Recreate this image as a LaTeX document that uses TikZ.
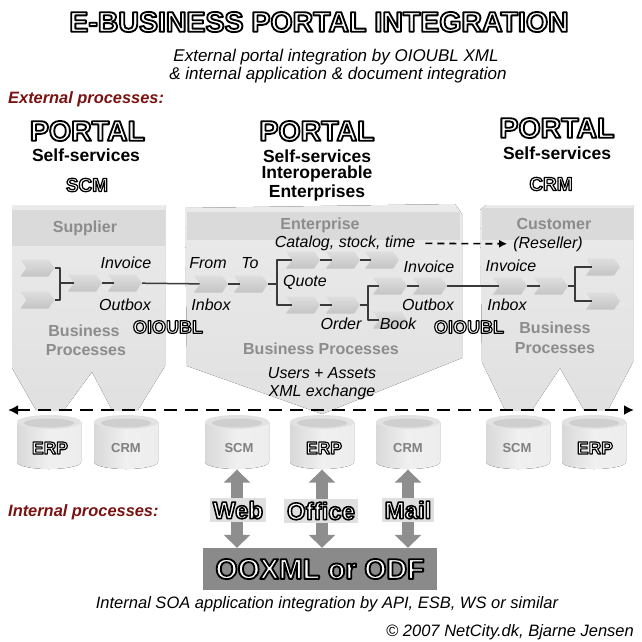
\documentclass[tikz,border=0pt]{standalone}
\usepackage{fontspec}
\setmainfont{Liberation Sans}
\newfontfamily\olfont[FakeBold=6.5]{Liberation Sans Bold}
\usetikzlibrary{shapes.symbols,arrows.meta}
\definecolor{dred}{HTML}{7A1212}
\definecolor{siloc}{HTML}{C9C9C9}
\definecolor{bandc}{HTML}{DADADA}
\definecolor{glab}{HTML}{8C8C8C}
\definecolor{linec}{HTML}{3A3A3A}
\definecolor{cyle}{HTML}{E2E2E2}
\definecolor{cylt}{HTML}{CFCFCF}
\definecolor{arrg}{HTML}{8E8E8E}
\definecolor{boxg}{HTML}{8A8A8A}
\newcommand\fsz[1]{\fontsize{#1}{#1}\selectfont}
\newcommand\olt[1]{{\olfont\special{pdf:bcolor [1 1 1] [0 0 0]}#1\special{pdf:ecolor}}}
\newcommand\dbcyl[3]{%
  \node[inner sep=0, minimum width=64pt, minimum height=55pt] (#1) at (#2,#3) {};
  \fill[left color=gray!30, right color=gray!14, middle color=gray!12]
    (#2-32,#3-20) -- (#2-32,#3+20) arc[start angle=180, end angle=360, x radius=32pt, y radius=7pt]
    -- (#2+32,#3-20) -- cycle;
  \fill[cyle] (#2,#3-20) ellipse [x radius=32pt, y radius=7pt];
  \fill[cylt] (#2,#3-19) ellipse [x radius=25pt, y radius=4.5pt];
}
\begin{document}
\begin{tikzpicture}[x=1pt,y=-1pt, line join=round,
  it/.style={inner sep=0, font=\fsz{16}\itshape},
  gl/.style={inner sep=0, font=\fsz{16}\bfseries, text=glab},
  bl/.style={inner sep=0, font=\fsz{17.5}\bfseries},
  ol/.style={inner sep=0, font=\fsz{#1}},
  chv/.style={signal, signal to=east, signal from=west, signal pointer angle=110,
    minimum width=34pt, minimum height=17pt, inner sep=0, draw=none,
    top color=gray!26, bottom color=gray!46},
  link/.style={draw=linec, line width=1.5pt},
  brk/.style={draw=linec, line width=2pt},
  barr/.style={draw=arrg, line width=12pt,
    {Triangle[length=13pt,width=26pt]}-{Triangle[length=13pt,width=26pt]}},
  lbox/.style={inner sep=3pt, fill=gray!25, font=\fsz{24}}
]
\useasboundingbox (0,0) rectangle (642,641);
\fill[white] (0,0) rectangle (642,641);

% ---------- headings ----------
\node[ol=28.5] (title) at (319,22) {\olt{E-BUSINESS PORTAL INTEGRATION}};
\node[it, font=\fsz{17}\itshape] (sub1) at (336,57) {External portal integration by OIOUBL XML};
\node[it, font=\fsz{17}\itshape] (sub2) at (338,75) {\& internal application \& document integration};
\node[anchor=west, inner sep=0, font=\fsz{16.4}\bfseries\itshape, text=dred] (ext) at (8,99) {External processes:};

\node[ol=28.5] (p1) at (87.5,131) {\olt{PORTAL}};
\node[bl] (s1) at (86,155) {Self-services};
\node[ol=19] (scm) at (87,185) {\olt{SCM}};

\node[ol=28.5] (p2) at (317,131) {\olt{PORTAL}};
\node[bl] (s2) at (317,156) {Self-services};
\node[bl] (s2b) at (317,174) {Interoperable};
\node[bl] (s2c) at (317,193) {Enterprises};

\node[ol=28.5] (p3) at (557,128) {\olt{PORTAL}};
\node[bl] (s3) at (557,153) {Self-services};
\node[ol=19] (crm) at (551,184) {\olt{CRM}};

% ---------- silos ----------
\fill[top color=gray!16, bottom color=gray!24] (12,205) -- (165,205) -- (165,366) -- (138,410) -- (112,410) -- (92,372)
  -- (64,410) -- (36,410) -- (12,368) -- cycle;
\fill[bandc] (12,210) rectangle (165,246);
\fill[top color=gray!16, bottom color=gray!24] (185,208) -- (455,204) -- (462,214) -- (462,358) -- (322,414) -- (187,366) -- cycle;
\fill[bandc] (187,212) rectangle (460,240);
\fill[top color=gray!16, bottom color=gray!24] (480,210) -- (486,205) -- (633,205) -- (633,362) -- (608,410) -- (584,410)
  -- (560,368) -- (532,410) -- (505,410) -- (482,362) -- cycle;
\fill[bandc] (482,208) rectangle (633,240);

\node[gl] (sup) at (85,228) {Supplier};
\node[gl] (bp1) at (84,331) {Business};
\node[gl] (bp1b) at (86,350) {Processes};
\node[gl] (ent) at (320,225) {Enterprise};
\node[gl] (bp2) at (321,349) {Business Processes};
\node[gl] (cus) at (554,224) {Customer};
\node[gl] (bp3) at (555,328) {Business};
\node[gl] (bp3b) at (555,348) {Processes};

% ---------- process chains ----------
\node[chv] (L1) at (37.5,268) {};
\node[chv] (L2) at (37.5,300) {};
\node[chv] (L3) at (85,283) {};
\node[chv] (L4) at (125,283) {};
\draw[brk] (L1.east) -- (60,268) -- (60,300) -- (L2.east);
\draw[brk] (60,283) -- (L3.west);
\draw[link] (L3) -- (L4);

\node[chv] (M1) at (211,284) {};
\node[chv] (M2) at (251,284) {};
\draw[link] (L4) -- (M1);
\draw[link] (M1) -- (M2);
\node[chv] (U1) at (303,260) {};
\node[chv] (U2) at (343,260) {};
\node[chv] (U3) at (382,260) {};
\node[chv] (D1) at (303,305) {};
\node[chv] (D2) at (343,305) {};
\draw[brk] (M2.east) -- (277,284);
\draw[brk] (U1.west) -- (277,260) -- (277,305) -- (D1.west);
\draw[link] (U1) -- (U2);
\draw[link] (U2) -- (U3);
\draw[link] (D1) -- (D2);
\node[chv] (B1) at (390,286) {};
\node[chv] (B2) at (430,286) {};
\node[chv] (B3) at (390,320) {};
\draw[brk] (D2.east) -- (368,305);
\draw[brk] (B1.west) -- (368,286) -- (368,320) -- (B3.west);
\draw[link] (B1) -- (B2);

\node[chv] (R1) at (510,286) {};
\node[chv] (R2) at (551,286) {};
\node[chv] (R3) at (603,267) {};
\node[chv] (R4) at (603,301) {};
\draw[link] (B2) -- (R1);
\draw[link] (R1) -- (R2);
\draw[brk] (R2.east) -- (575,286);
\draw[brk] (R3.west) -- (575,267) -- (575,301) -- (R4.west);

% ---------- chain labels ----------
\node[it] (inv1) at (126,263) {Invoice};
\node[it] (out1) at (125,305) {Outbox};
\node[ol=18] (oio1) at (168,327) {\olt{OIOUBL}};
\node[it] (from) at (208,263) {From};
\node[it] (to) at (250,263) {To};
\node[it] (inb1) at (211,305) {Inbox};
\node[it] (cat) at (345,243) {Catalog, stock, time};
\node[it] (res) at (548,244) {(Reseller)};
\draw[draw=black, line width=1.6pt, dash pattern=on 7pt off 5pt, -{Latex[length=8pt,width=8pt]},
  shorten <=10pt, shorten >=6pt] (cat) -- (res);
\node[it] (quo) at (305,282) {Quote};
\node[it] (ord) at (341,324) {Order};
\node[it] (book) at (398,324) {Book};
\node[it] (inv2) at (429,267) {Invoice};
\node[it] (out2) at (428,305) {Outbox};
\node[ol=18] (oio2) at (469,327) {\olt{OIOUBL}};
\node[it] (inv3) at (511,266) {Invoice};
\node[it] (inb3) at (507,305) {Inbox};
\node[it] (ua) at (322,373) {Users + Assets};
\node[it] (xe) at (322,392) {XML exchange};

% ---------- databases ----------
\dbcyl{c1}{49}{442}
\dbcyl{c2}{126}{442}
\dbcyl{c3}{237}{442}
\dbcyl{c4}{322}{442}
\dbcyl{c5}{408}{442}
\dbcyl{c6}{518}{442}
\dbcyl{c7}{594}{442}
\node[ol=17.5] (t1) at (50,448) {\olt{ERP}};
\node[inner sep=0, font=\fsz{13}\bfseries, text=gray] (t2) at (126,448) {CRM};
\node[inner sep=0, font=\fsz{13}\bfseries, text=gray] (t3) at (239,448) {SCM};
\node[ol=17.5] (t4) at (324,448) {\olt{ERP}};
\node[inner sep=0, font=\fsz{13}\bfseries, text=gray] (t5) at (408,448) {CRM};
\node[inner sep=0, font=\fsz{13}\bfseries, text=gray] (t6) at (517,448) {SCM};
\node[ol=17.5] (t7) at (595,448) {\olt{ERP}};

% ---------- external bus ----------
\coordinate (bl) at (8,410);
\coordinate (br) at (634,410);
\draw[line width=2.4pt, dash pattern=on 13pt off 8pt,
  {Latex[length=10pt,width=10pt]}-{Latex[length=10pt,width=10pt]}] (bl) -- (br);

% ---------- internal ----------
\node[anchor=west, inner sep=0, font=\fsz{16.4}\bfseries\itshape, text=dred] (intp) at (8,512) {Internal processes:};
\node[fill=boxg, minimum width=234pt, minimum height=42pt, inner sep=0, font=\fsz{28.5}]
  (box) at (320,569) {\olt{OOXML or ODF}};
\draw[barr] (c3.south) -- (c3.south |- box.north);
\draw[barr] (c4.south) -- (c4.south |- box.north);
\draw[barr] (c5.south) -- (c5.south |- box.north);
\node[lbox] (web) at (238,510) {\olt{Web}};
\node[lbox] (off) at (321,511) {\olt{Office}};
\node[lbox] (mail) at (408,510) {\olt{Mail}};

\node[it, font=\fsz{16.5}\itshape] (soa) at (327,604) {Internal SOA application integration by API, ESB, WS or similar};
\node[anchor=east, inner sep=0, font=\fsz{16.5}\itshape] (copy) at (634,632) {\textcopyright{} 2007 NetCity.dk, Bjarne Jensen};
\end{tikzpicture}
\end{document}
